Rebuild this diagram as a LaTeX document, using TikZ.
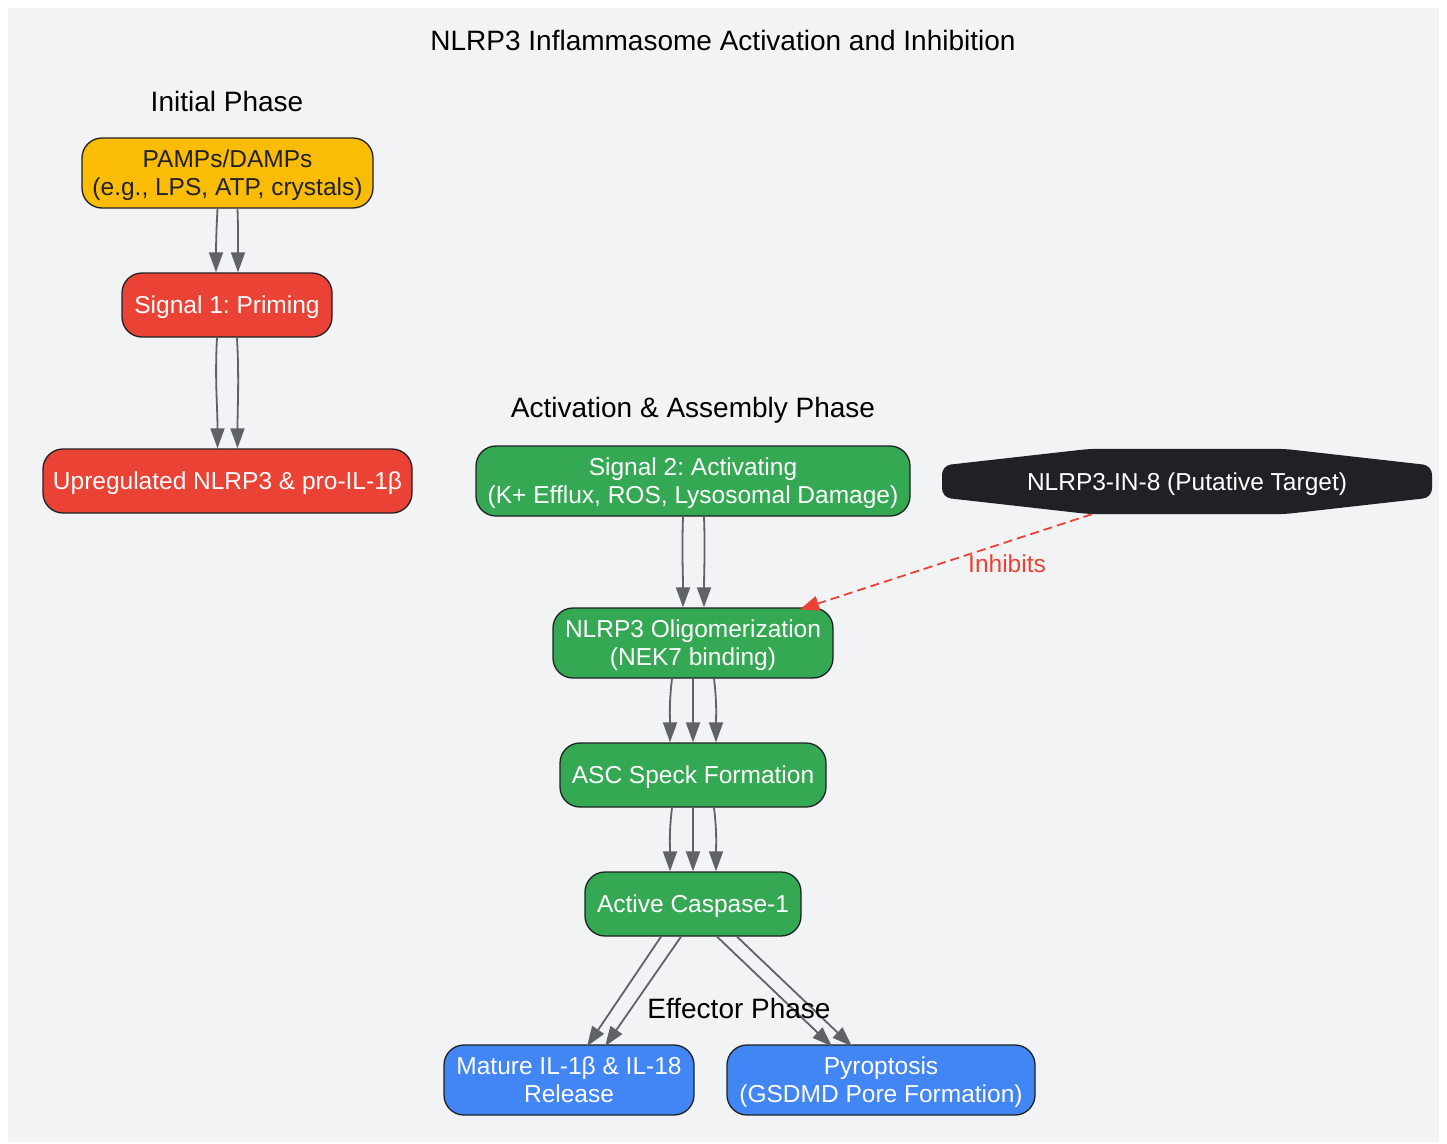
\documentclass[tikz,border=0pt]{standalone}
\usepackage{fontspec}
\setmainfont{Liberation Sans}
\usetikzlibrary{arrows.meta}
\definecolor{bg}{HTML}{F1F3F4}
\definecolor{gyellow}{HTML}{FBBC05}
\definecolor{gred}{HTML}{EA4335}
\definecolor{ggreen}{HTML}{34A853}
\definecolor{gblue}{HTML}{4285F4}
\definecolor{gdark}{HTML}{202124}
\definecolor{ggray}{HTML}{5F6368}
\tikzset{
  box/.style={draw=gdark, line width=1.3pt, rounded corners=20pt, align=center, inner sep=0pt,
    text depth=0pt, font=\fontsize{24.5}{28}\selectfont},
  yel/.style={box, fill=gyellow, text=gdark},
  red/.style={box, fill=gred, text=white},
  grn/.style={box, fill=ggreen, text=white},
  blu/.style={box, fill=gblue, text=white},
  lbl/.style={font=\fontsize{28}{32}\selectfont, text=black, inner sep=0pt},
  flow/.style={draw=ggray, line width=1.8pt, -{Triangle[length=20pt,width=14pt]}},
  inh/.style={draw=gred, line width=1.8pt, dash pattern=on 9pt off 5pt, -{Triangle[length=19pt,width=15pt]}},
}
\frenchspacing
\begin{document}
\begin{tikzpicture}[x=1pt,y=-1pt]
\useasboundingbox (0,0) rectangle (1447,1143);
\fill[bg] (8,8) rectangle (1439,1142);

\node[lbl] (title) at (723,40) {NLRP3 Inflammasome Activation and Inhibition};
\node[lbl] (phase1) at (227,101) {Initial Phase};
\node[lbl] (phase2) at (693,410) {Activation \& Assembly Phase};

\node[yel, minimum width=291pt, minimum height=70pt] (pamps) at (227.5,173) {PAMPs/DAMPs\\(e.g., LPS, ATP, crystals)};
\node[red, minimum width=210pt, minimum height=64pt] (sig1) at (227,305) {Signal 1: Priming};
\node[red, minimum width=369pt, minimum height=64pt] (upreg) at (227.5,481) {Upregulated NLRP3 \& pro-IL-1β};
\node[grn, minimum width=434pt, minimum height=70pt] (sig2) at (693,481) {Signal 2: Activating\\(K+ Efflux, ROS, Lysosomal Damage)};
\node[grn, minimum width=280pt, minimum height=70pt] (olig) at (693,643) {NLRP3 Oligomerization\\(NEK7 binding)};
\node[grn, minimum width=266pt, minimum height=64pt] (asc) at (693,775) {ASC Speck Formation};
\node[grn, minimum width=216pt, minimum height=64pt] (casp) at (693,904) {Active Caspase-1};
\node[blu, minimum width=250pt, minimum height=70pt] (il) at (569,1080) {Mature IL-1β \& IL-18\\Release};
\node[blu, minimum width=308pt, minimum height=70pt] (pyro) at (881,1080) {Pyroptosis\\(GSDMD Pore Formation)};

% hexagon-like inhibitor node
\node[minimum width=490pt, minimum height=65pt, inner sep=0pt] (hex) at (1187,481.5) {};
\fill[gdark, rounded corners=9pt] ([xshift=-245pt,yshift=16pt]hex.center) -- ([xshift=-97pt]hex.north) -- ([xshift=97pt]hex.north) -- ([xshift=245pt,yshift=16pt]hex.center) -- ([xshift=245pt,yshift=-16pt]hex.center) -- ([xshift=97pt]hex.south) -- ([xshift=-97pt]hex.south) -- ([xshift=-245pt,yshift=-16pt]hex.center) -- cycle;
\node[font=\fontsize{24.5}{28}\selectfont, text=white, text depth=0pt] (hextext) at (hex.center) {NLRP3-IN-8 (Putative Target)};

% flows
\draw[flow] ([xshift=-10pt]pamps.south) to[out=-93,in=90] ([xshift=-11pt]sig1.north);
\draw[flow] ([xshift=10pt]pamps.south) to[out=-88,in=90] ([xshift=11pt]sig1.north);
\draw[flow] ([xshift=-10pt]sig1.south) to[out=-93,in=90] ([xshift=-10pt]upreg.north);
\draw[flow] ([xshift=10pt]sig1.south) to[out=-87,in=90] ([xshift=10pt]upreg.north);
\draw[flow] ([xshift=-10pt]sig2.south) to[out=-92,in=90] ([xshift=-10pt]olig.north);
\draw[flow] ([xshift=11pt]sig2.south) to[out=-88,in=90] ([xshift=11pt]olig.north);

\draw[flow] ([xshift=-21pt]olig.south) to[out=-97,in=90] ([xshift=-23pt]asc.north);
\draw[flow] (olig.south) -- (asc.north);
\draw[flow] ([xshift=21pt]olig.south) to[out=-83,in=90] ([xshift=23pt]asc.north);
\draw[flow] ([xshift=-21pt]asc.south) to[out=-97,in=90] ([xshift=-23pt]casp.north);
\draw[flow] (asc.south) -- (casp.north);
\draw[flow] ([xshift=21pt]asc.south) to[out=-83,in=90] ([xshift=23pt]casp.north);

\draw[flow] ([xshift=-32pt]casp.south) -- ([xshift=18pt,yshift=-2pt]il.north);
\draw[flow] ([xshift=-12pt]casp.south) -- ([xshift=36pt,yshift=-2pt]il.north);
\draw[flow] ([xshift=24pt]casp.south) -- ([xshift=-49pt,yshift=-2pt]pyro.north);
\draw[flow] ([xshift=44pt]casp.south) -- ([xshift=-29pt,yshift=-2pt]pyro.north);

\draw[inh] ([xshift=-95pt]hex.south) -- ([xshift=107pt,yshift=-2pt]olig.north);
\node[font=\fontsize{24.5}{28}\selectfont, text=gred, inner sep=0pt] (inhl) at (1007,564) {Inhibits};

\node[lbl] (phase3) at (739,1008) {Effector Phase};
\end{tikzpicture}
\end{document}
